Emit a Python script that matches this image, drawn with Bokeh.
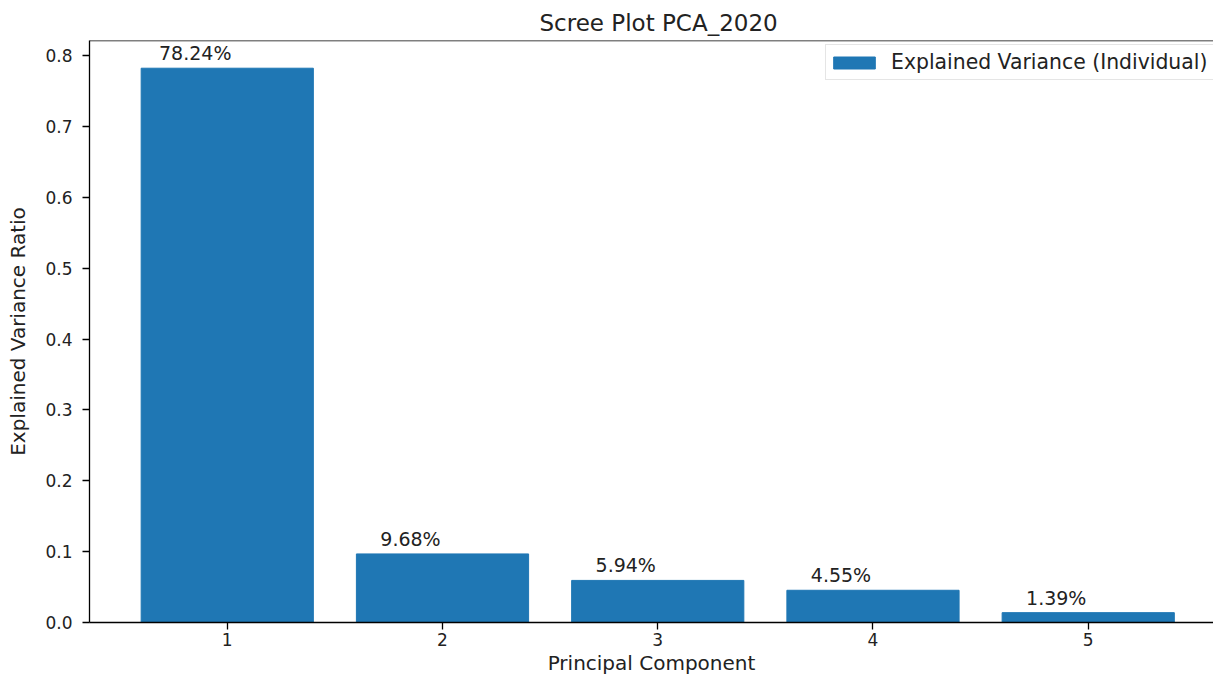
from bokeh.plotting import figure
from bokeh.models import Range1d, FixedTicker, NumeralTickFormatter, Span, ColumnDataSource
from bokeh.core.properties import value
from bokeh.embed import file_html
from bokeh.resources import INLINE

# ---- data ----
components = [1, 2, 3, 4, 5]
explained_variance = [0.7824, 0.0968, 0.0594, 0.0455, 0.0139]
value_labels = [f"{v*100:.2f}%" for v in explained_variance]
y_ticks = [0.0, 0.1, 0.2, 0.3, 0.4, 0.5, 0.6, 0.7, 0.8]
x_ticks = [1, 2, 3, 4, 5]
title_text = "Scree Plot PCA_2020"
x_label = "Principal Component"
y_label = "Explained Variance Ratio"
legend_text = "Explained Variance (Individual)"

FONT = "DejaVu Sans"
TXT = "#222222"
BAR = "#1f77b4"

y_max = max(explained_variance) * 1.05

src = ColumnDataSource(dict(x=components, top=explained_variance, lab=value_labels))

p = figure(width=1213, height=677,
           x_range=Range1d(0.36, 5.582), y_range=Range1d(0, y_max),
           output_backend="svg", toolbar_location=None,
           min_border_left=89, min_border_right=0, min_border_top=40, min_border_bottom=54)

p.vbar(x="x", top="top", width=0.8, source=src, fill_color=BAR, line_color=BAR,
       legend_label=legend_text)

p.text(x="x", y="top", text="lab", source=src, x_offset=-32, y_offset=-15,
       text_align="center", text_baseline="alphabetic",
       text_font=value(FONT), text_font_size="19px", text_color=TXT)

# styling
p.xgrid.visible = False
p.ygrid.visible = False
p.outline_line_color = None
p.add_layout(Span(location=y_max, dimension="width", line_color="black", line_width=1.3))

p.title.text = title_text
p.title.text_font = FONT
p.title.text_font_size = "23px"
p.title.text_font_style = "normal"
p.title.text_color = TXT
p.title.align = "left"
p.title.offset = 450
p.title.standoff = 9

for ax in (p.xaxis[0], p.yaxis[0]):
    ax.axis_line_color = "black"
    ax.axis_line_width = 1.3
    ax.major_tick_line_color = "black"
    ax.major_tick_line_width = 1.3
    ax.major_tick_in = 0
    ax.major_tick_out = 7
    ax.minor_tick_line_color = None
    ax.major_label_text_font = FONT
    ax.major_label_text_font_size = "17px"
    ax.major_label_text_color = TXT
    ax.axis_label_text_font = FONT
    ax.axis_label_text_font_size = "20px"
    ax.axis_label_text_font_style = "normal"
    ax.axis_label_text_color = TXT

p.xaxis.ticker = FixedTicker(ticks=x_ticks)
p.xaxis.axis_label = x_label
p.xaxis.major_label_standoff = 3
p.xaxis.axis_label_standoff = 2

p.yaxis.ticker = FixedTicker(ticks=y_ticks)
p.yaxis.formatter = NumeralTickFormatter(format="0.0")
p.yaxis.axis_label = y_label
p.yaxis.major_label_standoff = 10
p.yaxis.axis_label_standoff = 12

lg = p.legend[0]
lg.location = (736, 542)
lg.margin = 0
lg.padding = 2
lg.spacing = 0
lg.label_standoff = 11
lg.glyph_width = 52
lg.glyph_height = 15
lg.label_height = 30
lg.label_width = 340
lg.label_text_font = FONT
lg.label_text_font_size = "20.4px"
lg.label_text_color = TXT
lg.border_line_color = "#cccccc"
lg.border_line_width = 1
lg.background_fill_alpha = 0.8

open("out.html", "w").write(file_html(p, INLINE))
